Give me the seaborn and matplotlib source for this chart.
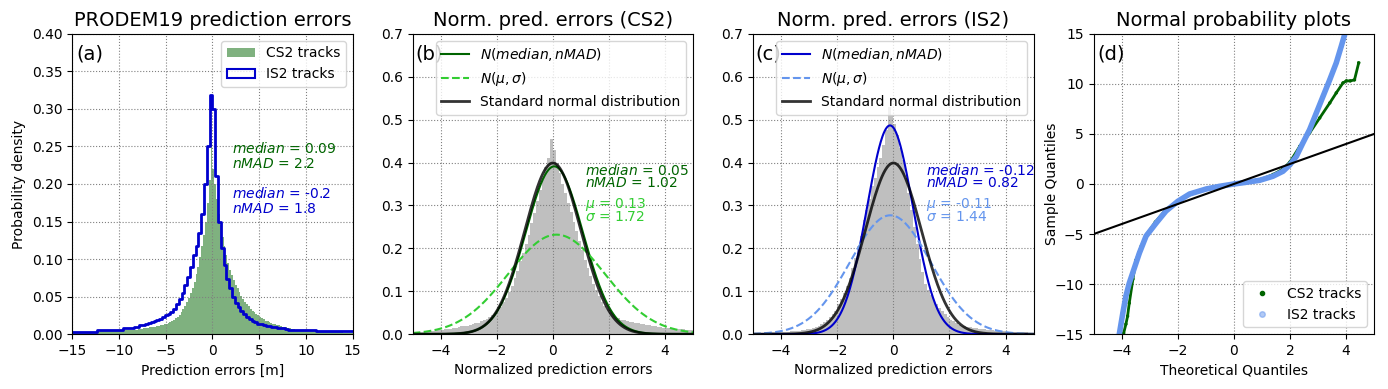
import numpy as np
import matplotlib.pyplot as plt
import seaborn as sns
from matplotlib.patches import Patch
from matplotlib.lines import Line2D

# ---------------- (a) prediction errors [m] ----------------
cs2_edges = np.linspace(-15, 15, 151)   # bin width 0.2
cs2_density = [
    0.003, 0.003, 0.003, 0.003, 0.003, 0.003, 0.003, 0.003, 0.003, 0.003,
    0.003, 0.003, 0.003, 0.003, 0.003, 0.004, 0.004, 0.004, 0.004, 0.004,
    0.004, 0.004, 0.004, 0.004, 0.004,
    0.005, 0.005, 0.005, 0.005, 0.005, 0.006, 0.006, 0.006, 0.006, 0.006,
    0.007, 0.007, 0.007, 0.008, 0.008, 0.008, 0.009, 0.009, 0.010, 0.010,
    0.011, 0.011, 0.012, 0.012, 0.013, 0.014, 0.015, 0.016, 0.018, 0.019,
    0.021, 0.023, 0.026, 0.029, 0.033, 0.038, 0.043, 0.048, 0.055, 0.062,
    0.070, 0.080, 0.090, 0.103, 0.118, 0.132, 0.150, 0.175, 0.205, 0.255,
    0.220, 0.200, 0.180, 0.160, 0.145, 0.130, 0.117, 0.105, 0.095, 0.086,
    0.079, 0.072, 0.066, 0.061, 0.056, 0.051, 0.047, 0.043, 0.040, 0.037,
    0.034, 0.031, 0.029, 0.027, 0.025, 0.023, 0.021, 0.020, 0.018, 0.017,
    0.016, 0.015, 0.014, 0.013, 0.012, 0.012, 0.011, 0.010, 0.010, 0.009,
    0.008, 0.008, 0.007, 0.007, 0.006, 0.006, 0.005, 0.005, 0.005, 0.004,
    0.004, 0.004, 0.004, 0.004, 0.004, 0.004, 0.004, 0.004, 0.004, 0.004,
    0.003, 0.003, 0.003, 0.003, 0.003, 0.003, 0.003, 0.003, 0.003, 0.003,
    0.002, 0.002, 0.002, 0.002, 0.002,
]
is2_edges = np.linspace(-15, 15, 101)   # bin width 0.3
is2_density = [
    0.003, 0.003, 0.003, 0.003, 0.003, 0.003, 0.003, 0.003, 0.003,
    0.005, 0.005, 0.005, 0.005, 0.005,
    0.006, 0.006, 0.006, 0.006,
    0.0076, 0.0076, 0.0076, 0.0076,
    0.010, 0.010, 0.012, 0.012, 0.014, 0.015, 0.016, 0.018, 0.019, 0.020,
    0.023, 0.025, 0.027, 0.030, 0.034, 0.040, 0.047, 0.055, 0.065, 0.076,
    0.090, 0.105, 0.118, 0.135, 0.160, 0.200, 0.250, 0.318,
    0.300, 0.210, 0.150, 0.115, 0.092, 0.074, 0.061, 0.050, 0.042, 0.036,
    0.031, 0.027, 0.023, 0.020, 0.017, 0.016, 0.014, 0.013, 0.012, 0.011,
    0.011, 0.010, 0.009, 0.008, 0.008, 0.008, 0.007,
    0.005, 0.005, 0.005, 0.005, 0.005, 0.005, 0.005, 0.005, 0.005, 0.005,
    0.0036, 0.0036, 0.0036, 0.0036, 0.0036, 0.0036, 0.0036, 0.0036, 0.0036,
    0.0036, 0.0036, 0.0036, 0.0036,
]

# ---------------- (b), (c) normalized errors ----------------
norm_edges = np.linspace(-5, 5, 101)    # bin width 0.1
cs2_norm_density = [
    0.005, 0.005, 0.006, 0.006, 0.007, 0.007, 0.008, 0.008, 0.009, 0.009,
    0.010, 0.011, 0.012, 0.013, 0.014, 0.015, 0.016, 0.018, 0.019, 0.020,
    0.021, 0.023, 0.025, 0.027, 0.030, 0.033, 0.036, 0.040, 0.045, 0.050,
    0.056, 0.064, 0.074, 0.085, 0.098, 0.112, 0.130, 0.148, 0.170, 0.190,
    0.210, 0.232, 0.258, 0.283, 0.310, 0.335, 0.360, 0.390, 0.410, 0.455,
    0.430, 0.400, 0.375, 0.350, 0.328, 0.305, 0.285, 0.262, 0.240, 0.218,
    0.196, 0.174, 0.155, 0.135, 0.118, 0.102, 0.088, 0.076, 0.066, 0.058,
    0.051, 0.046, 0.041, 0.037, 0.034, 0.032, 0.030, 0.029, 0.028, 0.027,
    0.025, 0.024, 0.023, 0.022, 0.021, 0.020, 0.018, 0.017, 0.016, 0.015,
    0.015, 0.014, 0.013, 0.013, 0.012, 0.012, 0.011, 0.010, 0.010, 0.009,
]
is2_norm_density = [
    0.003, 0.003, 0.003, 0.003, 0.004, 0.004, 0.004, 0.004, 0.005, 0.005,
    0.005, 0.006, 0.006, 0.007, 0.007, 0.008, 0.008, 0.009, 0.010, 0.011,
    0.013, 0.015, 0.017, 0.020, 0.024, 0.028, 0.033, 0.039, 0.046, 0.055,
    0.070, 0.082, 0.097, 0.113, 0.132, 0.155, 0.177, 0.205, 0.228, 0.265,
    0.290, 0.315, 0.345, 0.365, 0.390, 0.410, 0.440, 0.475, 0.530, 0.510,
    0.490, 0.465, 0.435, 0.405, 0.365, 0.330, 0.290, 0.250, 0.210, 0.175,
    0.145, 0.118, 0.103, 0.092, 0.080, 0.070, 0.062, 0.054, 0.046, 0.040,
    0.034, 0.030, 0.026, 0.022, 0.020, 0.018, 0.017, 0.016, 0.015, 0.014,
    0.013, 0.012, 0.011, 0.010, 0.009, 0.009, 0.008, 0.008, 0.007, 0.007,
    0.006, 0.006, 0.005, 0.005, 0.005, 0.004, 0.004, 0.004, 0.003, 0.003,
]

# fitted parameters shown on the chart
cs2_median, cs2_nmad, cs2_mu, cs2_sigma = 0.05, 1.02, 0.13, 1.72
is2_median, is2_nmad, is2_mu, is2_sigma = -0.12, 0.82, -0.11, 1.44

# ---------------- (d) normal probability plot ----------------
cs2_theo = [-3.93, -3.85, -3.79, -3.73, -3.60, -3.49, -3.30, -3.10, -2.80,
            -2.45, -2.00, -1.60, -1.00, -0.50, 0.00, 0.50, 1.00, 1.40, 1.75,
            2.00, 2.35, 2.70, 3.06, 3.42, 3.65, 3.89, 4.01, 4.15, 4.30, 4.45]
cs2_sample = [-14.9, -14.0, -13.2, -11.9, -9.5, -7.6, -6.2, -5.0, -3.8,
              -2.65, -1.8, -1.1, -0.55, -0.22, 0.05, 0.25, 0.5, 0.95, 1.5,
              2.2, 3.77, 5.1, 6.6, 8.1, 9.1, 10.1, 10.3, 10.3, 10.4, 12.1]
is2_theo = [-4.08, -3.96, -3.85, -3.73, -3.61, -3.37, -3.13, -2.77, -2.42,
            -2.00, -1.58, -0.99, -0.51, 0.00, 0.44, 0.92, 1.39, 1.75, 2.00,
            2.23, 2.46, 2.70, 2.94, 3.18, 3.42, 3.65, 3.83, 3.95, 4.02]
is2_sample = [-14.9, -12.9, -11.2, -9.9, -8.9, -6.9, -5.2, -3.9, -2.7,
              -1.73, -1.0, -0.5, -0.23, 0.0, 0.17, 0.37, 0.77, 1.27, 1.93,
              2.77, 4.1, 5.43, 7.1, 8.77, 10.43, 12.1, 13.77, 14.93, 15.6]


def npdf(x, m, s):
    return np.exp(-0.5 * ((x - m) / s) ** 2) / (s * np.sqrt(2 * np.pi))


def centers(edges):
    return (edges[:-1] + edges[1:]) / 2


fig, axes = plt.subplots(1, 4, figsize=(13.88, 3.89), dpi=100)
plt.subplots_adjust(left=0.052, right=0.990, bottom=0.141, top=0.913, wspace=0.214)
grid_kw = dict(linestyle=':', color='gray', linewidth=0.8)

# (a)
ax = axes[0]
sns.histplot(x=centers(cs2_edges), weights=cs2_density, bins=cs2_edges.tolist(),
             stat='count', color='darkgreen', alpha=0.5, linewidth=0,
             edgecolor='none', ax=ax)
sns.histplot(x=centers(is2_edges), weights=is2_density, bins=is2_edges.tolist(),
             stat='count', element='step', fill=False, color='mediumblue',
             linewidth=2, ax=ax)
ax.set_xlim(-15, 15)
ax.set_ylim(0, 0.4)
ax.set_xticks(np.arange(-15, 16, 5))
ax.set_yticks(np.arange(0, 0.41, 0.05))
ax.yaxis.set_major_formatter(plt.FormatStrFormatter('%.2f'))
ax.set_title('PRODEM19 prediction errors', fontsize=14)
ax.set_xlabel('Prediction errors [m]')
ax.set_ylabel('Probability density')
ax.grid(True, **grid_kw)
ax.legend(handles=[Patch(facecolor='darkgreen', alpha=0.5, label='CS2 tracks'),
                   Patch(facecolor='none', edgecolor='mediumblue', linewidth=1.5,
                         label='IS2 tracks')],
          loc='upper right', fontsize=10)
ax.text(2.1, 0.247, '$median$ = 0.09', color='darkgreen', fontsize=10, va='center')
ax.text(2.1, 0.227, '$nMAD$ = 2.2', color='darkgreen', fontsize=10, va='center')
ax.text(2.1, 0.187, '$median$ = -0.2', color='mediumblue', fontsize=10, va='center')
ax.text(2.1, 0.167, '$nMAD$ = 1.8', color='mediumblue', fontsize=10, va='center')
ax.text(0.015, 0.965, '(a)', transform=ax.transAxes, fontsize=14, va='top')

# (b), (c)
xs = np.linspace(-5, 5, 500)
panels = [
    (axes[1], cs2_norm_density, cs2_median, cs2_nmad, cs2_mu, cs2_sigma,
     'darkgreen', 'limegreen', 'Norm. pred. errors (CS2)', '(b)'),
    (axes[2], is2_norm_density, is2_median, is2_nmad, is2_mu, is2_sigma,
     'mediumblue', 'cornflowerblue', 'Norm. pred. errors (IS2)', '(c)'),
]
for ax, dens, med, nmad, mu, sig, c1, c2, title, letter in panels:
    sns.histplot(x=centers(norm_edges), weights=dens, bins=norm_edges.tolist(),
                 stat='count', color='gray', alpha=0.5, linewidth=0,
                 edgecolor='none', ax=ax)
    sns.lineplot(x=xs, y=npdf(xs, med, nmad), color=c1, linewidth=1.5, ax=ax,
                 label='$N(median, nMAD)$')
    sns.lineplot(x=xs, y=npdf(xs, mu, sig), color=c2, linewidth=1.5, linestyle='--',
                 ax=ax, label=r'$N(\mu, \sigma)$')
    sns.lineplot(x=xs, y=npdf(xs, 0, 1), color='black', alpha=0.8, linewidth=2,
                 ax=ax, label='Standard normal distribution')
    ax.set_xlim(-5, 5)
    ax.set_ylim(0, 0.7)
    ax.set_xticks([-4, -2, 0, 2, 4])
    ax.set_yticks(np.arange(0, 0.71, 0.1))
    ax.yaxis.set_major_formatter(plt.FormatStrFormatter('%.1f'))
    ax.set_title(title, fontsize=14)
    ax.set_xlabel('Normalized prediction errors')
    ax.set_ylabel('')
    ax.grid(True, **grid_kw)
    ax.legend(loc='upper right', fontsize=10)
    ax.text(1.15, 0.382, f'$median$ = {med}', color=c1, fontsize=10, va='center')
    ax.text(1.15, 0.352, f'$nMAD$ = {nmad}', color=c1, fontsize=10, va='center')
    ax.text(1.15, 0.302, rf'$\mu$ = {mu}', color=c2, fontsize=10, va='center')
    ax.text(1.15, 0.272, rf'$\sigma$ = {sig}', color=c2, fontsize=10, va='center')
    ax.text(0.008, 0.965, letter, transform=ax.transAxes, fontsize=14, va='top')

# (d)
ax = axes[3]
sns.lineplot(x=cs2_theo, y=cs2_sample, color='darkgreen', linewidth=2, sort=False, ax=ax)
sns.scatterplot(x=cs2_theo, y=cs2_sample, color='darkgreen', s=6, edgecolor='none', ax=ax)
sns.lineplot(x=is2_theo, y=is2_sample, color='cornflowerblue', linewidth=4, sort=False, ax=ax)
sns.scatterplot(x=is2_theo, y=is2_sample, color='cornflowerblue', s=10, alpha=0.5,
                edgecolor='none', ax=ax)
ax.axline((0, 0), slope=1, color='black', linewidth=1.5)
ax.set_xlim(-5, 5)
ax.set_ylim(-15, 15)
ax.set_xticks([-4, -2, 0, 2, 4])
ax.set_yticks(np.arange(-15, 16, 5))
ax.set_title('Normal probability plots', fontsize=14)
ax.set_xlabel('Theoretical Quantiles')
ax.set_ylabel('Sample Quantiles')
ax.yaxis.set_label_coords(-0.125, 0.5)
ax.grid(True, **grid_kw)
ax.legend(handles=[Line2D([], [], marker='o', linestyle='none', color='darkgreen',
                          markersize=3, label='CS2 tracks'),
                   Line2D([], [], marker='o', linestyle='none', color='cornflowerblue',
                          alpha=0.5, markersize=4, label='IS2 tracks')],
          loc='lower right', fontsize=10)
ax.text(0.015, 0.965, '(d)', transform=ax.transAxes, fontsize=14, va='top')

plt.savefig('out.png', dpi=100)
